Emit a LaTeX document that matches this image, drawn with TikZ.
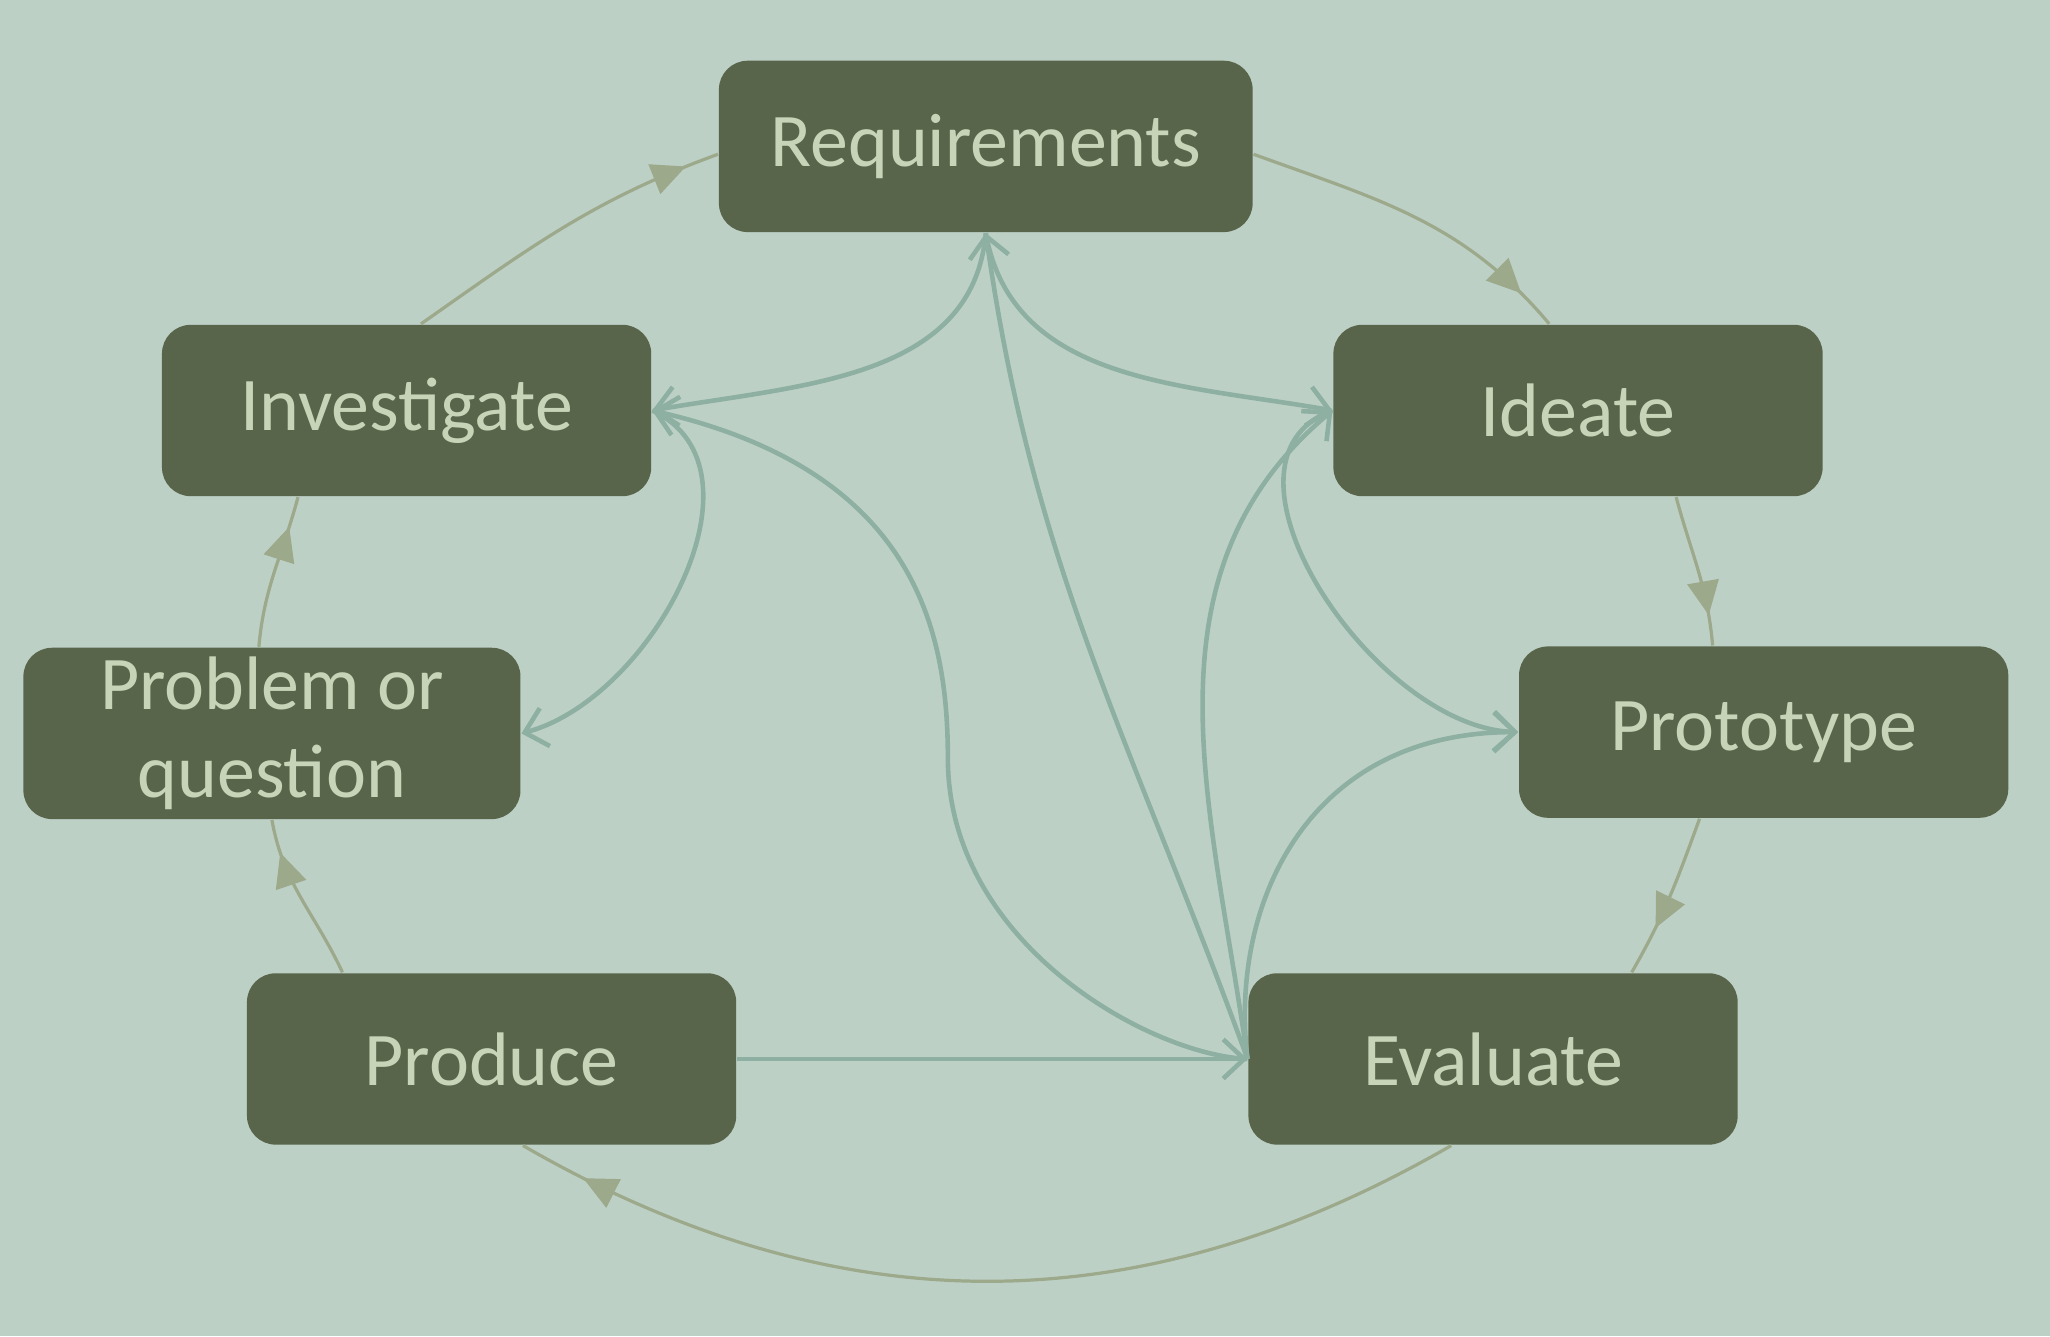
\documentclass[tikz,border=0pt]{standalone}
\usepackage{fontspec}
\setmainfont{Carlito}
\usetikzlibrary{arrows.meta,decorations.markings}
\definecolor{bg}{HTML}{BDD0C6}
\definecolor{boxc}{HTML}{58654A}
\definecolor{txtc}{HTML}{C8D4B8}
\definecolor{outerc}{HTML}{9CA98A}
\definecolor{innerc}{HTML}{8DB0A2}
\tikzset{
  boxnode/.style={fill=boxc,rounded corners=0.22cm,text=txtc,minimum height=1.31cm,align=center,font=\fontsize{16.5}{19}\selectfont,inner sep=0pt},
  outerarr/.style={draw=outerc,line width=0.7pt,postaction={decorate},decoration={markings,mark=at position #1 with {\arrow{Triangle[length=2.6mm,width=2.4mm]}}}},
  outerarr/.default=0.85,
  innerarr/.style={draw=innerc,line width=1pt,-{Straight Barb[length=1.6mm,width=3mm]}}
}
\begin{document}
\begin{tikzpicture}[x=0.01cm,y=0.01cm]
\fill[bg] (0,0) rectangle (1568,1022);
\useasboundingbox (0,0) rectangle (1568,1022);
% inner connectors first
\draw[innerc,line width=1pt] (0,0) -- (0,0);
\node[boxnode,minimum width=4.08cm] (req) at (754,910) {Requirements};
\node[boxnode,minimum width=3.74cm] (inv) at (311,708) {Investigate};
\node[boxnode,minimum width=3.74cm] (ide) at (1207,708) {Ideate};
\node[boxnode,minimum width=3.80cm] (prob) at (208,461) {Problem or\\question};
\node[boxnode,minimum width=3.74cm] (prot) at (1349,462) {Prototype};
\node[boxnode,minimum width=3.74cm] (prod) at (376,212) {Produce};
\node[boxnode,minimum width=3.74cm] (eval) at (1142,212) {Evaluate};
% outer cycle
\draw[outerarr=0.9] ([xshift=0.11cm]inv.north) to[out=35,in=200] ([yshift=-0.06cm]req.west);
\draw[outerarr=0.88] ([yshift=-0.06cm]req.east) to[out=-20,in=130] ([xshift=-0.22cm]ide.north);
\draw[outerarr=0.8] ([xshift=0.75cm]ide.south) to[out=-75,in=95] ([xshift=-0.39cm]prot.north);
\draw[outerarr=0.7] ([xshift=-0.49cm]prot.south) to[out=-110,in=60] ([xshift=1.06cm]eval.north);
\draw[outerarr=0.93] ([xshift=-0.32cm]eval.south) to[out=-150,in=-30] ([xshift=0.24cm]prod.south);
\draw[outerarr=0.8] ([xshift=-1.14cm]prod.north) to[out=115,in=-80] (prob.south);
\draw[outerarr=0.8] ([xshift=-0.1cm]prob.north) to[out=85,in=-105] ([xshift=-0.83cm]inv.south);
% inner connectors
\draw[innerarr] (req.south) to[out=-95,in=10] (inv.east);
\draw[innerarr] (req.south) to[out=-80,in=170] (ide.west);
\draw[innerarr] (eval.west) to[out=110,in=-82] (req.south);
\draw[innerarr] (eval.west) .. controls (880,215) and (725,300) .. (725,442) .. controls (725,540) and (700,662) .. (inv.east);
\draw[innerarr] (inv.east) to[out=-25,in=15] (prob.east);
\draw[innerarr] (ide.west) to[out=-160,in=178] (prot.west);
\draw[innerarr] (eval.west) to[out=98,in=-140] (ide.west);
\draw[innerarr] (eval.west) .. controls (940,330) and (1000,462) .. (prot.west);
\draw[innerarr] (prod.east) -- (eval.west);
\end{tikzpicture}
\end{document}
